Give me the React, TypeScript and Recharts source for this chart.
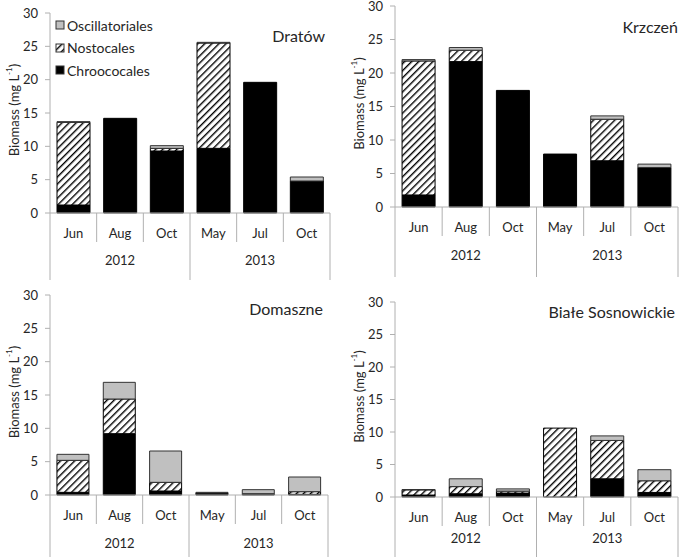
import { BarChart, Bar, XAxis, YAxis, Legend } from "recharts";

const months = ["Jun", "Aug", "Oct", "May", "Jul", "Oct"];
const monthYears = ["2012", "2012", "2012", "2013", "2013", "2013"];
const yTicks = [0, 5, 10, 15, 20, 25, 30];

// biomass, mg/L
const dratowChroo = [1.2, 14.2, 9.3, 9.7, 19.6, 4.8];
const dratowNosto = [12.4, 0, 0.4, 15.8, 0, 0];
const dratowOsc = [0.1, 0, 0.4, 0.1, 0, 0.6];

const krzczenChroo = [1.8, 21.7, 17.4, 7.9, 6.9, 5.9];
const krzczenNosto = [20.0, 1.7, 0, 0, 6.2, 0];
const krzczenOsc = [0.2, 0.4, 0, 0, 0.5, 0.5];

const domaszneChroo = [0.4, 9.2, 0.6, 0.3, 0.2, 0.1];
const domaszneNosto = [4.8, 5.2, 1.3, 0, 0, 0.4];
const domaszneOsc = [0.9, 2.5, 4.7, 0.1, 0.6, 2.2];

const bialeChroo = [0.3, 0.5, 0.6, 0, 2.8, 0.7];
const bialeNosto = [0.8, 1.1, 0.3, 10.6, 5.9, 1.8];
const bialeOsc = [0.05, 1.2, 0.35, 0, 0.7, 1.7];

const FONT = "Lato, 'Open Sans', sans-serif";
const AXIS = "#b0b0b0";
const TEXT = "#262626";
const GRAY = "#c0c0c0";

function rows(chroo: number[], nosto: number[], osc: number[]) {
  return months.map((m, i) => ({
    key: String(i),
    month: m,
    chroo: chroo[i],
    nosto: nosto[i],
    osc: osc[i],
  }));
}

const panels = [
  {
    title: "Dratów",
    data: rows(dratowChroo, dratowNosto, dratowOsc),
    left: 0, top: 0, height: 280,
    margin: { top: 13, right: 10, left: 0, bottom: 7 },
    yearGap: 47, titleRight: 15, titleTop: 26, legend: true,
  },
  {
    title: "Krzczeń",
    data: rows(krzczenChroo, krzczenNosto, krzczenOsc),
    left: 345, top: 0, height: 280,
    margin: { top: 6, right: 7, left: 0, bottom: 13 },
    yearGap: 48, titleRight: 7, titleTop: 17, legend: false,
  },
  {
    title: "Domaszne",
    data: rows(domaszneChroo, domaszneNosto, domaszneOsc),
    left: 0, top: 280, height: 277,
    margin: { top: 15, right: 12, left: 0, bottom: 2 },
    yearGap: 48, titleRight: 17, titleTop: 19, legend: false,
  },
  {
    title: "Białe Sosnowickie",
    data: rows(bialeChroo, bialeNosto, bialeOsc),
    left: 345, top: 280, height: 277,
    margin: { top: 22, right: 7, left: 0, bottom: 0 },
    yearGap: 41, titleRight: 10, titleTop: 22, legend: false,
  },
];

function MonthTick(props: any) {
  const { x, y, index, payload, yearGap } = props;
  const half = payload?.offset || 23.3;
  const left = x - half;
  const yearStart = index === 0 || index === 3;
  return (
    <g>
      <line x1={left} x2={left} y1={y} y2={y + (yearStart ? 70 : 29)} stroke={AXIS} />
      {index === months.length - 1 && (
        <line x1={x + half} x2={x + half} y1={y} y2={y + 70} stroke={AXIS} />
      )}
      <text x={x} y={y + 20} textAnchor="middle" dominantBaseline="central"
        fontFamily={FONT} fontSize={13} fill={TEXT}>
        {months[index]}
      </text>
      {(index === 1 || index === 4) && (
        <text x={x} y={y + yearGap} textAnchor="middle" dominantBaseline="central"
          fontFamily={FONT} fontSize={13} fill={TEXT}>
          {monthYears[index]}
        </text>
      )}
    </g>
  );
}

function YLabel(props: any) {
  const vb = props.viewBox || {};
  const cx = (vb.x ?? 0) + 14;
  const cy = (vb.y ?? 0) + (vb.height ?? 0) / 2 - 3;
  return (
    <text x={cx} y={cy} transform={`rotate(-90, ${cx}, ${cy})`} textAnchor="middle"
      dominantBaseline="central" fontFamily={FONT} fontSize={13} fill={TEXT}>
      Biomass (mg L<tspan dy={-5} fontSize={8}>-1</tspan>
      <tspan dy={5}>)</tspan>
    </text>
  );
}

const legendItems = [
  { name: "Oscillatoriales", fill: GRAY },
  { name: "Nostocales", fill: "url(#hatch-0)" },
  { name: "Chroococales", fill: "#000" },
];

function LegendBox() {
  return (
    <div style={{ fontFamily: FONT, fontSize: 14, color: TEXT }}>
      {legendItems.map((it) => (
        <div key={it.name} style={{ display: "flex", alignItems: "center", height: 22.5 }}>
          <svg width={10} height={10} style={{ marginRight: 2 }}>
            <rect x={1} y={1} width={8} height={8} fill={it.fill} stroke="#333" strokeWidth={1} />
          </svg>
          <span>{it.name}</span>
        </div>
      ))}
    </div>
  );
}

function Panel({ p, idx }: { p: (typeof panels)[number]; idx: number }) {
  const hatch = `hatch-${idx}`;
  return (
    <div style={{ position: "absolute", left: p.left, top: p.top, width: 340, height: p.height }}>
      <BarChart width={340} height={p.height} data={p.data} margin={p.margin}
        barCategoryGap="15%">
        <defs>
          <pattern id={hatch} patternUnits="userSpaceOnUse" width={5} height={5}
            patternTransform="rotate(45)">
            <rect width={5} height={5} fill="#fff" />
            <line x1={0} y1={0} x2={0} y2={5} stroke="#000" strokeWidth={2.8} />
          </pattern>
        </defs>
        <XAxis dataKey="key" height={60} axisLine={{ stroke: AXIS }} tickLine={false}
          tickSize={0} tickMargin={0} interval={0}
          tick={<MonthTick yearGap={p.yearGap} />} />
        <YAxis width={50} domain={[0, 30]} ticks={yTicks} interval={0}
          axisLine={{ stroke: AXIS }} tickLine={{ stroke: AXIS }} tickSize={5} tickMargin={7}
          tick={{ fill: TEXT, fontSize: 13, fontFamily: FONT }}
          label={(lp: any) => <YLabel {...lp} />} />
        {p.legend && (
          <Legend layout="vertical" align="center" verticalAlign="middle"
            wrapperStyle={{ left: 55, top: 14, width: "auto" }}
            content={() => <LegendBox />} />
        )}
        <Bar dataKey="chroo" name="Chroococales" stackId="a" fill="#000"
          stroke="#000" strokeWidth={1} isAnimationActive={false} />
        <Bar dataKey="nosto" name="Nostocales" stackId="a" fill={`url(#${hatch})`}
          stroke="#000" strokeWidth={1} isAnimationActive={false} />
        <Bar dataKey="osc" name="Oscillatoriales" stackId="a" fill={GRAY}
          stroke="#333" strokeWidth={1} isAnimationActive={false} />
      </BarChart>
      <div style={{
        position: "absolute", right: p.titleRight, top: p.titleTop,
        fontFamily: FONT, fontSize: 16, color: TEXT, lineHeight: "20px", whiteSpace: "nowrap",
      }}>
        {p.title}
      </div>
    </div>
  );
}

export default function App() {
  return (
    <div style={{ position: "absolute", left: 0, top: 0, width: 685, height: 557, background: "#fff" }}>
      {panels.map((p, i) => (
        <Panel key={p.title} p={p} idx={i} />
      ))}
    </div>
  );
}
